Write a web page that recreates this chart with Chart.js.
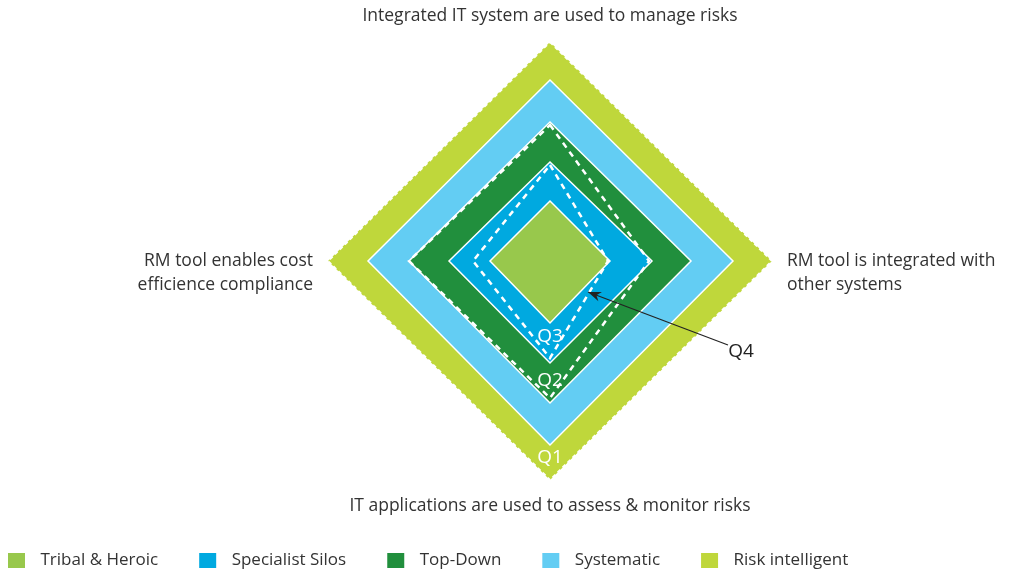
<!DOCTYPE html>
<html>
<head>
<meta charset="utf-8">
<script src="https://cdn.jsdelivr.net/npm/chart.js@4.4.1/dist/chart.umd.min.js"></script>
<style>
  html, body { margin: 0; padding: 0; background: #fff; overflow: hidden; }
  #wrap { width: 1043px; height: 576px; }
</style>
</head>
<body>
<div id="wrap"><canvas id="chart-maturity"></canvas></div>
<script>
const axisLabels = [
  'Integrated IT system are used to manage risks',
  ['', 'RM tool is integrated with', 'other systems'],
  'IT applications are used to assess & monitor risks',
  ['', 'RM tool enables cost', 'efficience compliance']
];
const stageNames = ['Tribal & Heroic', 'Specialist Silos', 'Top-Down', 'Systematic', 'Risk intelligent'];
const tribalHeroic = [60, 60, 62, 60];
const specialistSilos = [99, 102, 102, 101];
const topDown = [139, 141, 142, 141];
const systematic = [181, 183, 184, 182];
const riskIntelligent = [219, 222, 219, 222];
// dashed boundaries of Q3 and Q2
const q3Boundary = [96, 58, 97, 77];
const q2Boundary = [136, 99, 137, 141];

const stageColors = ['#98c84c', '#00a9e0', '#218f3d', '#63cdf3', '#bfd73b'];
const FONT = '"Open Sans", "Noto Sans", sans-serif';

// legend swatch: square with some blank space on both sides
function swatch(color) {
  const c = document.createElement('canvas');
  c.width = 31;
  c.height = 15;
  const g = c.getContext('2d');
  g.fillStyle = color;
  g.fillRect(7, 0, 17, 15);
  return c;
}

const quadrantNotes = {
  id: 'quadrantNotes',
  afterDatasetsDraw(chart) {
    const r = chart.scales.r;
    const ctx = chart.ctx;
    const d = v => r.getDistanceFromCenterForValue(v);
    ctx.save();
    ctx.font = '19px ' + FONT;
    ctx.textAlign = 'center';
    ctx.textBaseline = 'middle';
    ctx.fillStyle = '#fff';
    [['Q1', 197], ['Q2', 120], ['Q3', 76]].forEach(([t, v]) => {
      const p = r.getPointPositionForValue(2, v);
      ctx.fillText(t, p.x, p.y);
    });
    // Q4 label and arrow
    const tip = { x: r.xCenter + d(38), y: r.yCenter + d(31) };
    const tail = { x: r.xCenter + d(178), y: r.yCenter + d(84) };
    ctx.fillStyle = '#222';
    ctx.fillText('Q4', r.xCenter + d(191), r.yCenter + d(91));
    ctx.strokeStyle = '#222';
    ctx.lineWidth = 1.2;
    ctx.beginPath();
    ctx.moveTo(tail.x, tail.y);
    ctx.lineTo(tip.x, tip.y);
    ctx.stroke();
    const a = Math.atan2(tip.y - tail.y, tip.x - tail.x);
    ctx.beginPath();
    ctx.moveTo(tip.x, tip.y);
    ctx.lineTo(tip.x - 13 * Math.cos(a) + 5 * Math.sin(a), tip.y - 13 * Math.sin(a) - 5 * Math.cos(a));
    ctx.lineTo(tip.x - 9 * Math.cos(a), tip.y - 9 * Math.sin(a));
    ctx.lineTo(tip.x - 13 * Math.cos(a) - 5 * Math.sin(a), tip.y - 13 * Math.sin(a) + 5 * Math.cos(a));
    ctx.closePath();
    ctx.fill();
    ctx.restore();
  }
};

const stageData = [tribalHeroic, specialistSilos, topDown, systematic, riskIntelligent];

const datasets = [
  { label: 'q3', data: q3Boundary, fill: false, borderColor: '#fff', borderWidth: 2.5, borderDash: [6, 5] },
  { label: 'q2', data: q2Boundary, fill: false, borderColor: '#fff', borderWidth: 2.5, borderDash: [6, 5] }
].concat(stageData.map((vals, i) => ({
  label: stageNames[i],
  data: vals,
  fill: true,
  backgroundColor: stageColors[i],
  borderColor: '#fff',
  borderWidth: i === 4 ? 2 : 1.5,
  borderDash: i === 4 ? [4, 3] : []
})));

const ctxMaturity = document.getElementById('chart-maturity').getContext('2d');
new Chart(ctxMaturity, {
  type: 'radar',
  data: { labels: axisLabels, datasets: datasets },
  options: {
    responsive: true,
    maintainAspectRatio: false,
    animation: false,
    layout: { padding: { left: -33, right: 0, top: 4, bottom: -3 } },
    elements: {
      point: { radius: 0, hoverRadius: 0 },
      line: { tension: 0, borderJoinStyle: 'miter' }
    },
    scales: {
      r: {
        min: 0,
        max: 220,
        ticks: { display: false },
        grid: { display: false },
        angleLines: { display: false },
        pointLabels: {
          color: '#333',
          padding: ctx => (ctx.index % 2 ? 17 : 13),
          font: { family: FONT, size: 17.5, lineHeight: 24 / 17.5 }
        }
      }
    },
    plugins: {
      // empty left box, only used to move the plot to the right
      title: {
        display: true,
        position: 'left',
        text: '',
        font: { size: 1, lineHeight: 1 },
        padding: { top: 0, bottom: 89 }
      },
      tooltip: { enabled: false },
      legend: {
        position: 'bottom',
        align: 'start',
        labels: {
          usePointStyle: true,
          pointStyleWidth: 31,
          boxHeight: 15,
          padding: 34,
          color: '#333',
          font: { family: FONT, size: 17 },
          generateLabels: chart => Chart.defaults.plugins.legend.labels.generateLabels(chart)
            .map(item => Object.assign(item, { lineWidth: 0, pointStyle: swatch(item.fillStyle) })),
          filter: item => item.datasetIndex >= 2
        }
      }
    }
  },
  plugins: [quadrantNotes]
});
</script>
</body>
</html>
